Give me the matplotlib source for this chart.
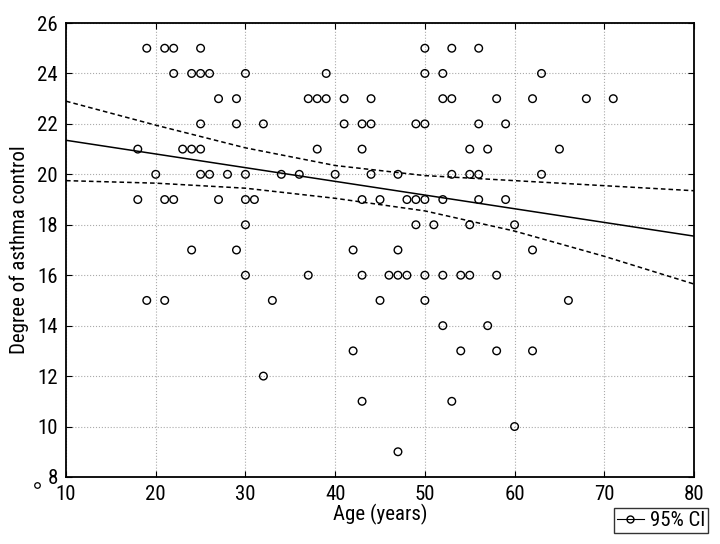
import numpy as np
import matplotlib
matplotlib.use('Agg')
import matplotlib.pyplot as plt
from matplotlib.lines import Line2D

plt.rcParams['font.family'] = ['Roboto Condensed', 'Open Sans Condensed', 'DejaVu Sans']

# points grouped by score (degree of asthma control)
rows = {
    25: [19, 21, 22, 25, 50, 53, 56],
    24: [22, 24, 25, 26, 30, 39, 50, 52, 63],
    23: [27, 29, 37, 38, 39, 41, 44, 52, 53, 58, 62, 68, 71],
    22: [25, 29, 32, 41, 43, 44, 49, 50, 56, 59],
    21: [18, 23, 24, 25, 38, 43, 55, 57, 65],
    20: [20, 25, 26, 28, 30, 34, 36, 40, 44, 47, 53, 55, 56, 63],
    19: [18, 21, 22, 27, 30, 31, 43, 45, 48, 49, 50, 52, 56, 59],
    18: [30, 49, 51, 55, 60],
    17: [24, 29, 42, 47, 62],
    16: [30, 37, 43, 46, 47, 48, 50, 52, 54, 55, 58],
    15: [19, 21, 33, 45, 50, 66],
    14: [52, 57],
    13: [42, 54, 58, 62],
    12: [32],
    11: [43, 53],
    10: [60],
    9: [47],
}
age = np.array([a for s, ages in rows.items() for a in ages], dtype=float)
score = np.array([s for s, ages in rows.items() for a in ages], dtype=float)

# regression line and 95% CI (age, value)
fit_x = [10, 80]
fit_y = [21.35, 17.55]
ci_x = [10, 20, 30, 40, 50, 60, 70, 80]
ci_upper = [22.9, 21.95, 21.05, 20.35, 19.95, 19.75, 19.55, 19.35]
ci_lower = [19.75, 19.65, 19.45, 19.05, 18.55, 17.75, 16.75, 15.65]

fig = plt.figure(figsize=(7.2, 5.44), dpi=100, facecolor='white')
ax = fig.add_axes([0.0917, 0.1232, 0.8722, 0.8345])

ax.scatter(age, score, s=30, facecolors='none', edgecolors='black', linewidths=1.0, zorder=3)
ax.plot(fit_x, fit_y, color='black', linewidth=1.1, zorder=2)
ax.plot(ci_x, ci_upper, color='black', linestyle=(0, (3, 2)), linewidth=1.1, zorder=2)
ax.plot(ci_x, ci_lower, color='black', linestyle=(0, (3, 2)), linewidth=1.1, zorder=2)

ax.set_xlim(10, 80)
ax.set_ylim(8, 26)
ax.set_xticks(range(10, 81, 10))
ax.set_yticks(range(8, 27, 2))
ax.grid(True, color='#aaaaaa', linestyle=':', linewidth=0.8)
ax.tick_params(direction='in', top=True, right=True, labelsize=15, length=4, pad=6)
for sp in ax.spines.values():
    sp.set_linewidth(1.3)

ax.set_xlabel('Age (years)', fontsize=15, labelpad=0)
ax.set_ylabel('Degree of asthma control', fontsize=15, labelpad=6)

handle = Line2D([], [], color='black', linewidth=0.8, marker='o',
                markerfacecolor='none', markersize=5)
fig.legend([handle], ['95% CI'], loc='lower right', bbox_to_anchor=(0.984, 0.02),
           fontsize=15, frameon=True, fancybox=False, edgecolor='black',
           handlelength=1.3, handletextpad=0.3, borderpad=0.15, borderaxespad=0.0)

# stray small circle beside the first x tick label
fig.add_artist(Line2D([0.0514], [0.109], marker='o', markersize=4, markerfacecolor='none',
                      markeredgecolor='black', markeredgewidth=0.9, linestyle='none',
                      transform=fig.transFigure))

fig.savefig('out.png', dpi=100)
